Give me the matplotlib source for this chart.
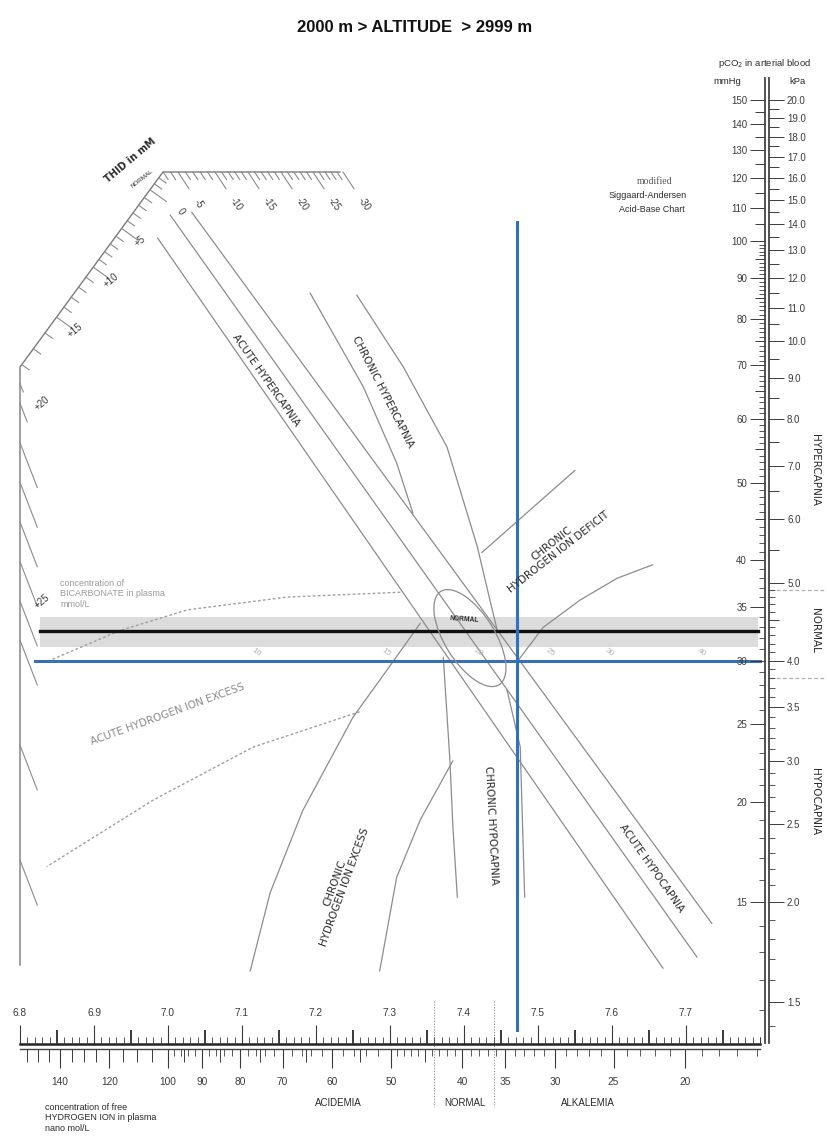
import numpy as np
import matplotlib
matplotlib.use("Agg")
import matplotlib.pyplot as plt
from matplotlib.patches import Ellipse
from matplotlib.ticker import FixedLocator, NullLocator, NullFormatter, FuncFormatter

plt.rcParams['font.family'] = ['Liberation Sans', 'DejaVu Sans']

# ======================= DATA =======================
TITLE = "2000 m > ALTITUDE  > 2999 m"

# bottom scale : pH and free hydrogen ion (nmol/L)
ph_labels = [6.8, 6.9, 7.0, 7.1, 7.2, 7.3, 7.4, 7.5, 7.6, 7.7]
ph_limits = [6.8, 7.8]
hion_labels = [140, 120, 100, 90, 80, 70, 60, 50, 40, 35, 30, 25, 20]
ph_normal_limits = [7.36, 7.44]
bottom_zone_labels = ["ACIDEMIA", "NORMAL", "ALKALEMIA"]
bottom_zone_ph = [7.230, 7.401, 7.568]

# right scale : pCO2
pco2_mmhg_labels = [150, 140, 130, 120, 110, 100, 90, 80, 70, 60, 50, 40, 35, 30, 25, 20, 15]
pco2_kpa_labels = [20.0, 19.0, 18.0, 17.0, 16.0, 15.0, 14.0, 13.0, 12.0, 11.0, 10.0,
                   9.0, 8.0, 7.0, 6.0, 5.0, 4.0, 3.5, 3.0, 2.5, 2.0, 1.5]
pco2_limits = [10, 160]
pco2_normal_limits = [28.5, 36.7]
right_zone_labels = ["HYPERCAPNIA", "NORMAL", "HYPOCAPNIA"]
right_zone_pco2 = [51.8, 32.7, 20.0]
KPA_PER_MMHG = 0.133322

# THID (base excess) scale, mM
thid_label_values = [-30, -25, -20, -15, -10, -5, 0, 5, 10, 15, 20, 25]

# acute (in vivo CO2 titration) lines: THID +5, 0, -5
acute_p5_ph, acute_p5_pco2 = [6.986, 7.669], [100.9, 12.4]
acute_0_ph, acute_0_pco2 = [7.003, 7.715], [107.8, 12.8]
acute_m5_ph, acute_m5_pco2 = [7.032, 7.735], [108.7, 14.1]
# chronic hypercapnia
chr_hyper1_ph, chr_hyper1_pco2 = [7.192, 7.264, 7.309, 7.331], [86.2, 65.8, 52.9, 45.8]
chr_hyper2_ph, chr_hyper2_pco2 = [7.255, 7.318, 7.377, 7.418, 7.435, 7.445], [85.7, 69.7, 55.4, 41.6, 35.7, 32.7]
# chronic hydrogen ion deficit
chr_hdef1_ph, chr_hdef1_pco2 = [7.424, 7.550], [40.9, 51.8]
chr_hdef2_ph, chr_hdef2_pco2 = [7.473, 7.507, 7.557, 7.607, 7.655], [30.0, 33.0, 35.7, 38.0, 39.5]
# chronic hypocapnia
chr_hypo1_ph, chr_hypo1_pco2 = [7.372, 7.381, 7.385, 7.391], [30.3, 22.5, 18.6, 15.2]
chr_hypo2_ph, chr_hypo2_pco2 = [7.458, 7.476, 7.482], [27.6, 23.4, 15.2]
# chronic hydrogen ion excess
chr_hexc1_ph, chr_hexc1_pco2 = [7.341, 7.296, 7.250, 7.182, 7.138, 7.111], [33.4, 29.2, 25.5, 19.5, 15.4, 12.3]
chr_hexc2_ph, chr_hexc2_pco2 = [7.385, 7.341, 7.309, 7.286], [22.5, 19.0, 16.1, 12.3]
# acute hydrogen ion excess (dashed)
ac_hexc1_ph, ac_hexc1_pco2 = [7.314, 7.161, 7.026, 6.935, 6.840], [36.5, 36.0, 34.7, 32.7, 30.0]
ac_hexc2_ph, ac_hexc2_pco2 = [7.259, 7.115, 6.980, 6.836], [25.9, 23.4, 20.1, 16.6]

# normal area
normal_center = (7.408, 32.0)

# bicarbonate scale
hco3_line_pco2 = 32.7
hco3_band_pco2 = [31.2, 34.0]
hco3_span_ph = [6.827, 7.797]
hco3_labels = [10, 15, 20, 25, 30, 40]
hco3_label_pco2 = 31.2

# patient point (blue cross-hair)
blue_ph = 7.472
blue_pco2 = 30.0
blue_v_pco2 = [10.4, 105.6]
blue_h_ph = [6.82, 7.80]

# ======================= LAYOUT =======================
W, H = 827, 1137
X0, KX = 20.0, 740.0       # px of pH 6.8, px per pH unit
Y0, KY = 100.0, 802.0      # px of 150 mmHg, px per decade
xlim = (6.8 - X0 / KX, 6.8 + (W - X0) / KX)
ylim = (150 * 10 ** (-(H - Y0) / KY), 150 * 10 ** (Y0 / KY))

fig = plt.figure(figsize=(W / 100, H / 100), dpi=100)
fig.patch.set_facecolor('white')

ax = fig.add_axes([0, 0, 1, 1])
ax.set_xlim(*xlim)
ax.set_yscale('log')
ax.set_ylim(*ylim)
ax.axis('off')

pax = fig.add_axes([0, 0, 1, 1])
pax.set_xlim(0, W)
pax.set_ylim(H, 0)
pax.axis('off')


def to_px(ph, pco2):
    d = ax.transData.transform((ph, pco2))
    return d[0], H - d[1]


GRAY = '#8c8c8c'
TXT = '#2a2a2a'

# ---------- bicarbonate band & line ----------
ax.fill_between(hco3_span_ph, hco3_band_pco2[0], hco3_band_pco2[1], color='#dcdcdc', lw=0, zorder=1)
ax.plot(hco3_span_ph, [hco3_line_pco2] * 2, color='#111111', lw=2.4, zorder=3)
for v in hco3_labels:
    phv = 6.1 + np.log10(v / (0.0307 * hco3_label_pco2))
    ax.text(phv, hco3_label_pco2, str(v), fontsize=6, color='#b5b5b5', rotation=-35,
            ha='center', va='top', zorder=3)

# ---------- curves ----------
for phs, pcs in [(acute_p5_ph, acute_p5_pco2), (acute_0_ph, acute_0_pco2),
                 (acute_m5_ph, acute_m5_pco2),
                 (chr_hyper1_ph, chr_hyper1_pco2), (chr_hyper2_ph, chr_hyper2_pco2),
                 (chr_hdef1_ph, chr_hdef1_pco2), (chr_hdef2_ph, chr_hdef2_pco2),
                 (chr_hypo1_ph, chr_hypo1_pco2), (chr_hypo2_ph, chr_hypo2_pco2),
                 (chr_hexc1_ph, chr_hexc1_pco2), (chr_hexc2_ph, chr_hexc2_pco2)]:
    ax.plot(phs, pcs, color=GRAY, lw=0.9, zorder=2, solid_capstyle='round')
for phs, pcs in [(ac_hexc1_ph, ac_hexc1_pco2), (ac_hexc2_ph, ac_hexc2_pco2)]:
    ax.plot(phs, pcs, color='#a0a0a0', lw=1.0, ls=(0, (2, 1.6)), zorder=2)

# ---------- blue cross-hair ----------
BLUE = '#3c6eb4'
ax.plot(blue_h_ph, [blue_pco2] * 2, color=BLUE, lw=2.2, zorder=4)
ax.plot([blue_ph] * 2, blue_v_pco2, color=BLUE, lw=2.2, zorder=4)

# ---------- normal ellipse ----------
cx, cy = to_px(*normal_center)
pax.add_patch(Ellipse((cx, cy), 110, 50, angle=58, fill=False, ec=GRAY, lw=0.9, zorder=3))
pax.text(cx - 6, cy - 19, "NORMAL", fontsize=4.8, fontweight='bold', color=TXT,
         ha='center', va='center', rotation=-4, zorder=5)

# ---------- right normal marks ----------
for v in pco2_normal_limits:
    ax.plot([7.8135, 7.888], [v, v], color='#b0b0b0', lw=0.9, ls=(0, (3, 2)), zorder=2)

# ---------- bottom normal dotted limits ----------
for v in ph_normal_limits:
    ax.plot([v, v], [11.3, 8.33], color='#8a8a8a', lw=0.8, ls=(0, (1, 1.5)), zorder=2)


# ---------- scales built from axes ticks ----------
def tick_layer(rect, which, locs, scale, lim, side, length, width, fmt=None,
               fs=7, pad=2, color='#3a3a3a'):
    a = fig.add_axes(rect)
    a.patch.set_visible(False)
    for sp in a.spines.values():
        sp.set_visible(False)
    if which == 'y':
        a.set_yscale(scale)
        a.set_ylim(*lim)
        a.set_xticks([])
        axis = a.yaxis
        sides = ['left', 'right']
    else:
        a.set_xscale(scale)
        a.set_xlim(*lim)
        a.set_yticks([])
        axis = a.xaxis
        sides = ['top', 'bottom']
    axis.set_major_locator(FixedLocator(locs))
    axis.set_minor_locator(NullLocator())
    axis.set_major_formatter(FuncFormatter(fmt) if fmt else NullFormatter())
    kw = {s: (s == side) for s in sides}
    kw.update({'label' + s: (s == side and fmt is not None) for s in sides})
    a.tick_params(axis=which, which='major', direction='out', length=length, width=width,
                  color=color, labelcolor=color, labelsize=fs, pad=pad, **kw)
    a.tick_params(axis=which, which='minor', length=0)
    return a


# right pCO2 scale
rect_r = [765 / W, 0, 4 / W, 1]
lim_k = (ylim[0] * KPA_PER_MMHG, ylim[1] * KPA_PER_MMHG)
mm_mid = [v for v in list(range(145, 100, -5)) + list(range(95, 10, -5)) if v not in pco2_mmhg_labels]
mm_small = [v for v in range(99, 10, -1) if v % 5 != 0]
a_mm = tick_layer(rect_r, 'y', pco2_mmhg_labels, 'log', ylim, 'left', 11, 0.7,
                  fmt=lambda v, p: f"{v:g}", fs=7, pad=2)
tick_layer(rect_r, 'y', mm_mid, 'log', ylim, 'left', 7, 0.7)
tick_layer(rect_r, 'y', mm_small, 'log', ylim, 'left', 4, 0.6)
a_mm.spines['left'].set_visible(True)
a_mm.spines['left'].set_bounds(*pco2_limits)
a_mm.spines['left'].set_color('#444444')
a_mm.spines['left'].set_linewidth(1.3)

kpa_mid = [round(v, 1) for v in np.arange(19.5, 4.4, -0.5) if round(v, 1) not in pco2_kpa_labels]
kpa_small = [round(v, 1) for v in np.arange(4.9, 1.3, -0.1)
             if round(v, 1) not in pco2_kpa_labels and round(v * 2, 1) % 1 != 0]
a_k = tick_layer(rect_r, 'y', pco2_kpa_labels, 'log', lim_k, 'right', 11, 0.7,
                 fmt=lambda v, p: f"{v:.1f}", fs=7, pad=2)
tick_layer(rect_r, 'y', kpa_mid, 'log', lim_k, 'right', 7, 0.7)
tick_layer(rect_r, 'y', kpa_small, 'log', lim_k, 'right', 4, 0.6)
a_k.spines['right'].set_visible(True)
a_k.spines['right'].set_bounds(pco2_limits[0] * KPA_PER_MMHG, pco2_limits[1] * KPA_PER_MMHG)
a_k.spines['right'].set_color('#444444')
a_k.spines['right'].set_linewidth(1.3)

# bottom pH / H+ scale
rect_b = [0, (H - 1049) / H, 1, 5 / H]
ph_half = [round(6.85 + 0.1 * i, 2) for i in range(10)]
ph_small = [round(6.8 + 0.01 * i, 2) for i in range(101)
            if round(6.8 + 0.01 * i, 2) not in ph_labels and round(6.8 + 0.01 * i, 2) not in ph_half]
a_ph = tick_layer(rect_b, 'x', ph_labels, 'linear', xlim, 'top', 14, 0.8,
                  fmt=lambda v, p: f"{v:.1f}", fs=7.3, pad=5)
tick_layer(rect_b, 'x', ph_half, 'linear', xlim, 'top', 10, 1.4)
tick_layer(rect_b, 'x', ph_small + [7.8], 'linear', xlim, 'top', 5, 0.6)
a_ph.spines['top'].set_visible(True)
a_ph.spines['top'].set_bounds(*ph_limits)
a_ph.spines['top'].set_color('#222222')
a_ph.spines['top'].set_linewidth(1.8)

h_mid = [v for v in list(range(155, 15, -5)) if v not in hion_labels]
h_small = [v for v in list(range(98, 50, -2)) + list(range(49, 15, -1))
           if v % 5 != 0]
h_to_ph = lambda hs: [9 - np.log10(h) for h in hs]
a_h = tick_layer(rect_b, 'x', h_to_ph(hion_labels), 'linear', xlim, 'bottom', 14, 0.8,
                 fmt=lambda v, p: f"{10 ** (9 - v):.0f}", fs=7.3, pad=6)
tick_layer(rect_b, 'x', h_to_ph(h_mid), 'linear', xlim, 'bottom', 9, 0.7)
tick_layer(rect_b, 'x', h_to_ph(h_small), 'linear', xlim, 'bottom', 5, 0.6)
a_h.spines['bottom'].set_visible(True)
a_h.spines['bottom'].set_bounds(*ph_limits)
a_h.spines['bottom'].set_color('#444444')
a_h.spines['bottom'].set_linewidth(1.0)

# ---------- THID scale (top-left) ----------
thid_arc = [-180, -150, -118, -85, -52, -15, 22, 70, 118, 180, 278, 476]  # px along scale path
A = np.array([163.0, 172.0])
B = np.array([20.0, 367.0])
L1 = float(np.hypot(*(B - A)))
u1 = (B - A) / L1
TOP_LEN, BOT_Y = 177, 965
d_top = np.array([0.55, 0.835]) / np.hypot(0.55, 0.835)
d_diag = np.array([0.812, 0.583])
d_vert = np.array([0.36, 0.933]) / np.hypot(0.36, 0.933)


def thid_point(s):
    if s <= 0:
        return A + np.array([-s, 0.0]), d_top
    if s <= L1:
        return A + u1 * s, d_diag
    return B + np.array([0.0, s - L1]), d_vert


pax.plot([A[0] + TOP_LEN, A[0], B[0], B[0]], [A[1], A[1], B[1], BOT_Y], color='#7a7a7a', lw=1.0)
ext_vals = thid_label_values + [26, 27, 28]
ext_arc = thid_arc + [515, 620, 735]
for v in range(-30, 29):
    s = float(np.interp(v, ext_vals, ext_arc))
    p, d = thid_point(s)
    if s > L1 and v > 20:
        ln = 48
    else:
        ln = 20 if v % 5 == 0 else 9
    pax.plot([p[0], p[0] + ln * d[0]], [p[1], p[1] + ln * d[1]], color='#8a8a8a', lw=0.8)
for v, s in zip(thid_label_values, thid_arc):
    p, d = thid_point(s)
    if s <= 22:
        q = p + 38 * d
        rot = -55
        txt = "0" if v == 0 else f"-{abs(v)}"
    elif s <= L1:
        q = p + 22 * d
        rot = 40
        txt = f"+{v}"
    else:
        q = p + np.array([22.0, 0.0])
        rot = 40
        txt = f"+{v}"
    pax.text(q[0], q[1], txt, fontsize=7, color='#3a3a3a', rotation=rot,
             ha='center', va='center', rotation_mode='anchor')
pax.text(130, 160, "THID in mM", fontsize=7, fontweight='bold', color=TXT, rotation=40,
         ha='center', va='center', family=['DejaVu Sans'])
pax.text(142, 179, "NORMAL", fontsize=4.5, color=TXT, rotation=38, ha='center', va='center')

# ---------- texts ----------
pax.text(415, 27, TITLE, fontsize=12, fontweight='bold', color='#111111', ha='center',
         va='center', family=['Liberation Sans', 'DejaVu Sans'])
pax.text(765, 63, "pCO$_2$ in arterial blood", fontsize=6.8, color=TXT, ha='center', va='center')
pax.text(727, 81, "mmHg", fontsize=6.8, color=TXT, ha='center', va='center')
pax.text(797, 81, "kPa", fontsize=6.8, color=TXT, ha='center', va='center')

pax.text(655, 181, "modified", fontsize=7, color='#555555', ha='center', va='center',
         family=['Liberation Serif', 'DejaVu Serif'])
pax.text(648, 196, "Siggaard-Andersen", fontsize=6.5, color=TXT, ha='center', va='center')
pax.text(652, 209, "Acid-Base Chart", fontsize=6.5, color=TXT, ha='center', va='center')

for lab, v in zip(right_zone_labels, right_zone_pco2):
    _, yy = to_px(7.8, v)
    pax.text(815, yy, lab, fontsize=7.5, color=TXT, rotation=-90, ha='center', va='center',
             family=['DejaVu Sans'])

for lab, v in zip(bottom_zone_labels, bottom_zone_ph):
    xx, _ = to_px(v, 30)
    pax.text(xx, 1103, lab, fontsize=7, color=TXT, ha='center', va='center')

pax.text(45, 1118, "concentration of free\nHYDROGEN ION in plasma\nnano mol/L", fontsize=6.5,
         color=TXT, ha='left', va='center', linespacing=1.15)
pax.text(60, 594, "concentration of\nBICARBONATE in plasma\nmmol/L", fontsize=6.5,
         color='#9a9a9a', ha='left', va='center', linespacing=1.15)

curve_labels = [
    ("ACUTE HYPERCAPNIA", 266, 380, -55, TXT),
    ("CHRONIC HYPERCAPNIA", 383, 392, -63, TXT),
    ("CHRONIC HYPOCAPNIA", 491, 825, -87, TXT),
    ("ACUTE HYPOCAPNIA", 652, 868, -55, TXT),
    ("CHRONIC\nHYDROGEN ION EXCESS", 340, 885, 70, TXT),
    ("CHRONIC\nHYDROGEN ION DEFICIT", 555, 548, 38, TXT),
    ("ACUTE HYDROGEN ION EXCESS", 168, 714, 20, '#8a8a8a'),
]
for txt, x, y, r, c in curve_labels:
    pax.text(x, y, txt, fontsize=7.5, color=c, rotation=r, ha='center', va='center',
             family=['DejaVu Sans'], linespacing=1.1, rotation_mode='anchor')

fig.savefig("out.png", dpi=100, facecolor='white')
